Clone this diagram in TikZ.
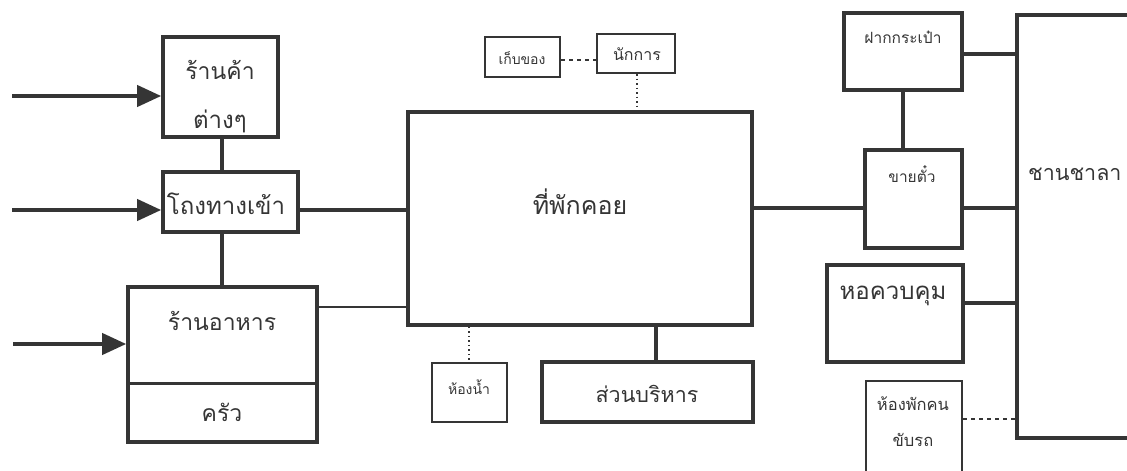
\documentclass[tikz,border=0pt]{standalone}
\usepackage{fontspec}
\newfontfamily\thaifont[Script=Thai]{Loma}
\usetikzlibrary{arrows.meta}
\definecolor{ink}{HTML}{353535}
\begin{document}
\begin{tikzpicture}[x=1pt,y=-1pt,
  thickbox/.style={draw=ink,line width=3.6pt,inner sep=0pt},
  thinbox/.style={draw=ink,line width=2pt,inner sep=0pt},
  conn/.style={draw=ink,line width=3.4pt},
  thinconn/.style={draw=ink,line width=1.6pt},
  dotconn/.style={draw=ink,line width=1.4pt,dash pattern=on 1.5pt off 3pt},
  dashconn/.style={draw=ink,line width=1.4pt,dash pattern=on 4pt off 4pt},
  inarrow/.style={draw=ink,line width=4pt,-{Triangle[length=24pt,width=21pt]}},
  txt/.style={text=ink,font=\thaifont\fontsize{#1}{#1}\selectfont,inner sep=0pt}]
\useasboundingbox (0,0) rectangle (1127,471);
\begin{scope}
\clip (0,0) rectangle (1127,471);
% boxes
\node[thickbox,minimum width=115pt,minimum height=100pt] (shop) at (220.5,87) {};
\node[thickbox,minimum width=135pt,minimum height=60pt] (hall) at (230.5,202) {};
\node[thickbox,minimum width=189pt,minimum height=155pt] (food) at (222.5,364.5) {};
\node[thickbox,minimum width=344pt,minimum height=213pt] (wait) at (580,218.5) {};
\node[thinbox,minimum width=75pt,minimum height=40pt] (store) at (522.5,57) {};
\node[thinbox,minimum width=78pt,minimum height=39pt] (janitor) at (636,53.5) {};
\node[thinbox,minimum width=75pt,minimum height=59pt] (toilet) at (469.5,392.5) {};
\node[thickbox,minimum width=211pt,minimum height=60pt] (admin) at (647.5,392) {};
\node[thickbox,minimum width=118pt,minimum height=77pt] (luggage) at (903,51.5) {};
\node[thickbox,minimum width=97pt,minimum height=98pt] (ticket) at (913.5,199) {};
\node[thickbox,minimum width=130pt,minimum height=423pt] (platform) at (1082,226.5) {};
\node[thickbox,minimum width=136pt,minimum height=97pt] (tower) at (895,313.5) {};
\node[thinbox,minimum width=96pt,minimum height=100pt] (driver) at (914,431) {};
% kitchen divider
\coordinate (kdiv) at (0,383);
\draw[conn,line width=3pt] (food.west |- kdiv) -- (food.east |- kdiv);
% labels
\node[txt=23] (tshop1) at (220,70) {ร้านค้า};
\node[txt=24] (tshop2) at (220,121) {ต่างๆ};
\node[txt=24] (thall) at (226,204) {โถงทางเข้า};
\node[txt=23] (tfood) at (222,321) {ร้านอาหาร};
\node[txt=23] (tkitchen) at (222,412) {ครัว};
\node[txt=25] (twait) at (580,202) {ที่พักคอย};
\node[txt=14] (tstore) at (522,58) {เก็บของ};
\node[txt=16] (tjan) at (637,54) {นักการ};
\node[txt=14] (ttoilet) at (469,387) {ห้องน้ำ};
\node[txt=21.5] (tadmin) at (647,394) {ส่วนบริหาร};
\node[txt=15.5] (tlug) at (903,37) {ฝากกระเป๋า};
\node[txt=15.5] (tticket) at (912,174) {ขายตั๋ว};
\node[txt=21.5,anchor=west] (tplat) at (1028,174) {ชานชาลา};
\node[txt=24] (ttower) at (893,296) {หอควบคุม};
\node[txt=16.5] (tdrv1) at (913,404) {ห้องพักคน};
\node[txt=16.5] (tdrv2) at (913,440) {ขับรถ};
% incoming arrows
\coordinate (s1) at (12,96);
\coordinate (s2) at (12,210);
\coordinate (s3) at (13,344);
\draw[inarrow] (s1) -- (shop.west |- s1);
\draw[inarrow] (s2) -- (hall.west |- s2);
\draw[inarrow] (s3) -- (food.west |- s3);
% connectors
\coordinate (xl) at (222,0);
\draw[conn] (shop.south -| xl) -- (hall.north -| xl);
\draw[conn] (hall.south -| xl) -- (food.north -| xl);
\draw[conn] (hall.east |- s2) -- (wait.west |- s2);
\coordinate (yf) at (0,307);
\draw[thinconn] (food.east |- yf) -- (wait.west |- yf);
\coordinate (xj) at (637,0);
\draw[dotconn] (janitor.south -| xj) -- (wait.north -| xj);
\coordinate (ys) at (0,60);
\draw[dashconn] (store.east |- ys) -- (janitor.west |- ys);
\coordinate (xt) at (469,0);
\draw[dotconn] (wait.south -| xt) -- (toilet.north -| xt);
\coordinate (xa) at (656,0);
\draw[conn] (wait.south -| xa) -- (admin.north -| xa);
\coordinate (yr) at (0,208);
\draw[conn] (wait.east |- yr) -- (ticket.west |- yr);
\draw[conn] (ticket.east |- yr) -- (platform.west |- yr);
\draw[conn] (luggage.south) -- (ticket.north -| luggage.south);
\coordinate (yl) at (0,54);
\draw[conn] (luggage.east |- yl) -- (platform.west |- yl);
\coordinate (yt) at (0,303);
\draw[conn] (tower.east |- yt) -- (platform.west |- yt);
\coordinate (yd) at (0,419);
\draw[dashconn] (driver.east |- yd) -- (platform.west |- yd);
\end{scope}
\end{tikzpicture}
\end{document}
